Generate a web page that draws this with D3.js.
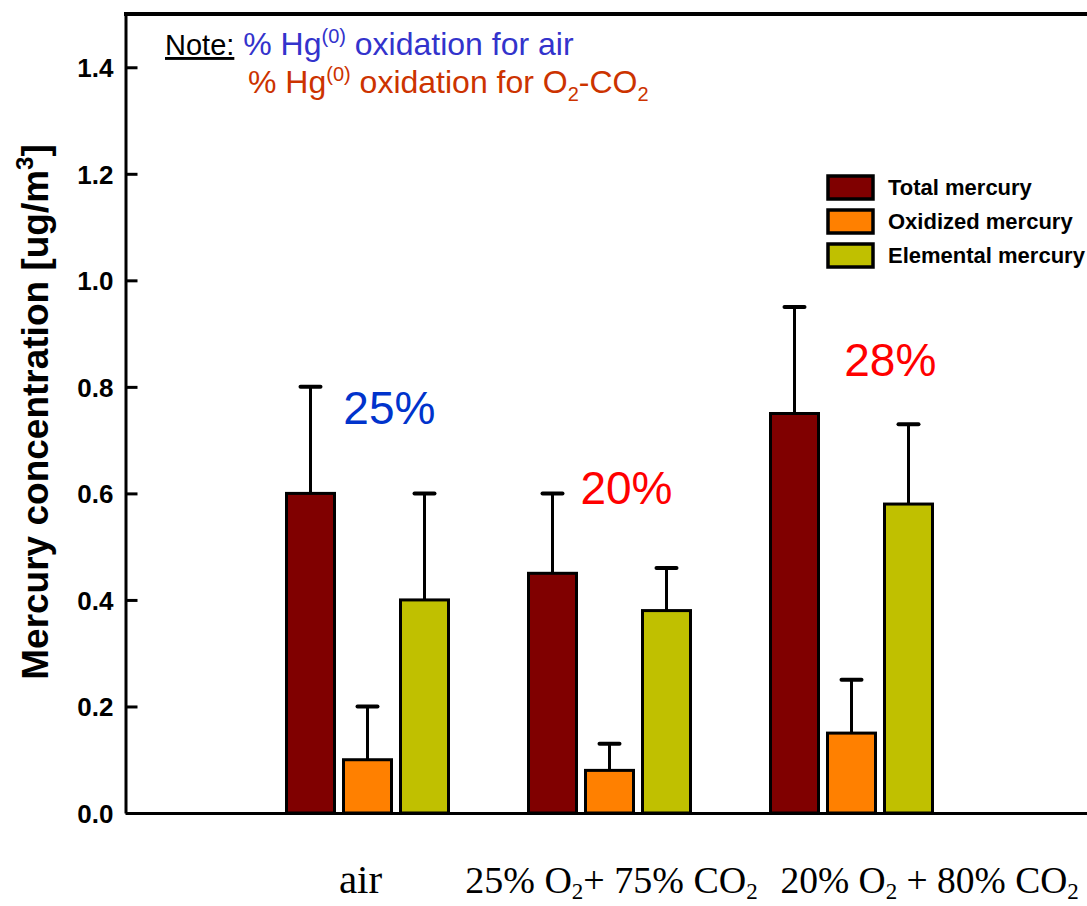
<!DOCTYPE html>
<html>
<head>
<meta charset="utf-8">
<script src="https://cdn.jsdelivr.net/npm/d3@7"></script>
<style>
  body { margin: 0; background: #fff; }
  svg { display: block; }
  .axis path, .axis line { stroke: #000; stroke-width: 3; }
  .axis text { font-family: Arial, "Liberation Sans", sans-serif; font-weight: bold; font-size: 26px; fill: #000; }
</style>
</head>
<body>
<div id="chart"></div>
<script>
// data
const groups = ["air", "25% O2 + 75% CO2", "20% O2 + 80% CO2"];
const seriesNames = ["Total mercury", "Oxidized mercury", "Elemental mercury"];
const seriesColors = ["#800000", "#ff8000", "#c0c000"];
const totalHg = [0.60, 0.45, 0.75];
const oxidizedHg = [0.10, 0.08, 0.15];
const elementalHg = [0.40, 0.38, 0.58];
const totalErr = [0.80, 0.60, 0.95];
const oxidizedErr = [0.20, 0.13, 0.25];
const elementalErr = [0.60, 0.46, 0.73];
const oxidationPct = ["25%", "20%", "28%"];
const pctX = [0.90, 1.88, 2.97];    // where each % label starts (x units)
const pctY = [0.73, 0.58, 0.82];    // and its baseline (y units)
const yTicks = [0, 0.2, 0.4, 0.6, 0.8, 1.0, 1.2, 1.4];

const width = 1087, height = 906;

const svg = d3.select("#chart").append("svg")
    .attr("width", width)
    .attr("height", height);

// scales
const x = d3.scaleLinear().domain([0, 4]).range([125.5, 1093.5]);
const y = d3.scaleLinear().domain([0, 1.5]).range([813, 14]);

const barW = 48, step = 57;
const values = [totalHg, oxidizedHg, elementalHg];
const errs = [totalErr, oxidizedErr, elementalErr];

// flatten to one record per bar
let bars = [];
groups.forEach(function (g, i) {
  seriesNames.forEach(function (s, j) {
    bars.push({group: i, series: j, value: values[j][i], err: errs[j][i]});
  });
});
const cx = d => x(d.group + 1) + (d.series - 1) * step;

// error bars (upper only), drawn under the bars
const eb = svg.append("g").attr("class", "errors");
eb.selectAll("line.stem")
  .data(bars).enter().append("line")
    .attr("class", "stem")
    .attr("x1", cx).attr("x2", cx)
    .attr("y1", d => y(d.value)).attr("y2", d => y(d.err))
    .attr("stroke", "#000").attr("stroke-width", 3);
eb.selectAll("line.cap")
  .data(bars).enter().append("line")
    .attr("class", "cap")
    .attr("x1", d => cx(d) - 10).attr("x2", d => cx(d) + 10)
    .attr("y1", d => y(d.err)).attr("y2", d => y(d.err))
    .attr("stroke", "#000").attr("stroke-width", 4)
    .attr("stroke-linecap", "round");

// bars
svg.append("g").selectAll("rect")
  .data(bars).enter().append("rect")
    .attr("x", d => cx(d) - barW / 2)
    .attr("y", d => y(d.value))
    .attr("width", barW)
    .attr("height", d => y(0) - y(d.value))
    .attr("fill", d => seriesColors[d.series])
    .attr("stroke", "#000")
    .attr("stroke-width", 3);

// axes
svg.append("g")
    .attr("class", "axis y")
    .attr("transform", "translate(" + x(0) + ",0)")
    .call(d3.axisLeft(y).tickValues(yTicks).tickFormat(d3.format(".1f"))
      .tickSizeInner(-12).tickSizeOuter(0).tickPadding(12))
    .call(g => g.selectAll(".tick text").attr("dy", "0.36em"));

svg.append("g")
    .attr("class", "axis x")
    .attr("transform", "translate(0," + y(0) + ")")
    .call(d3.axisBottom(x).tickValues([]).tickSizeOuter(0));

// top frame line
svg.append("line")
    .attr("x1", x(0) - 1.5).attr("x2", width)
    .attr("y1", y(1.5)).attr("y2", y(1.5))
    .attr("stroke", "#000").attr("stroke-width", 4);

// y axis title
const yTitle = svg.append("text")
    .attr("transform", "translate(48," + 412 + ") rotate(-90)")
    .attr("text-anchor", "middle")
    .style("font-family", "Arial, 'Liberation Sans', sans-serif")
    .style("font-weight", "bold")
    .style("font-size", "37px");
yTitle.append("tspan").text("Mercury concentration [ug/m");
yTitle.append("tspan").attr("dy", -15).style("font-size", "24px").text("3");
yTitle.append("tspan").attr("dy", 15).text("]");

// category labels, serif, with subscripts
const catFont = "'Times New Roman', 'Liberation Serif', serif";
function subLabel(sel, parts) {
  let shift = 0;
  parts.forEach(function (p) {
    const t = sel.append("tspan").text(p.t);
    if (p.sub) {
      t.attr("dy", 6 - shift).style("font-size", "23px");
      shift = 6;
    } else {
      t.attr("dy", -shift);
      shift = 0;
    }
  });
}
const catY = 893;
svg.append("text")
    .attr("x", x(1) - 7).attr("y", catY)
    .attr("text-anchor", "middle")
    .style("font-family", catFont).style("font-size", "41px")
    .text(groups[0]);
const l2 = svg.append("text")
    .attr("x", x(2) + 2).attr("y", catY)
    .attr("text-anchor", "middle")
    .style("font-family", catFont).style("font-size", "38px");
subLabel(l2, [{t: "25% O"}, {t: "2", sub: true}, {t: "+ 75% CO"}, {t: "2", sub: true}]);
const l3 = svg.append("text")
    .attr("x", x(3) - 71).attr("y", catY)
    .attr("text-anchor", "start")
    .style("font-family", catFont).style("font-size", "37.5px");
subLabel(l3, [{t: "20% O"}, {t: "2", sub: true}, {t: " + 80% CO"}, {t: "2", sub: true}]);

// oxidation percentages
const pctColors = ["#0033cc", "#ff0000", "#ff0000"];
svg.append("g").selectAll("text")
  .data(oxidationPct).enter().append("text")
    .attr("x", (d, i) => x(pctX[i]))
    .attr("y", (d, i) => y(pctY[i]))
    .style("font-family", "Arial, 'Liberation Sans', sans-serif")
    .style("font-size", "46px")
    .attr("fill", (d, i) => pctColors[i])
    .text(d => d);

// note text
const noteFont = "Arial, 'Liberation Sans', sans-serif";
const n1 = svg.append("text").attr("x", 165).attr("y", 55)
    .style("font-family", noteFont).style("font-size", "32px");
n1.append("tspan").attr("fill", "#000").style("font-size", "29px")
    .style("text-decoration", "underline").text("Note:");
n1.append("tspan").attr("fill", "#3333cc").text(" % Hg");
n1.append("tspan").attr("fill", "#3333cc").attr("dy", -12).style("font-size", "20px").text("(0)");
n1.append("tspan").attr("fill", "#3333cc").attr("dy", 12).text(" oxidation for air");

const n2 = svg.append("text").attr("x", 248).attr("y", 93)
    .style("font-family", noteFont).style("font-size", "32px").attr("fill", "#cc3300");
n2.append("tspan").text("% Hg");
n2.append("tspan").attr("dy", -12).style("font-size", "20px").text("(0)");
n2.append("tspan").attr("dy", 12).text(" oxidation for O");
n2.append("tspan").attr("dy", 8).style("font-size", "20px").text("2");
n2.append("tspan").attr("dy", -8).text("-CO");
n2.append("tspan").attr("dy", 8).style("font-size", "20px").text("2");

// legend
const legend = svg.append("g").attr("transform", "translate(828,176)");
const li = legend.selectAll("g")
  .data(seriesNames).enter().append("g")
    .attr("transform", (d, i) => "translate(0," + i * 34 + ")");
li.append("rect")
    .attr("width", 45).attr("height", 23)
    .attr("fill", (d, i) => seriesColors[i])
    .attr("stroke", "#000").attr("stroke-width", 3.5);
li.append("text")
    .attr("x", 60).attr("y", 19)
    .style("font-family", "Arial, 'Liberation Sans', sans-serif")
    .style("font-weight", "bold")
    .style("font-size", "22px")
    .text(d => d);
</script>
</body>
</html>
